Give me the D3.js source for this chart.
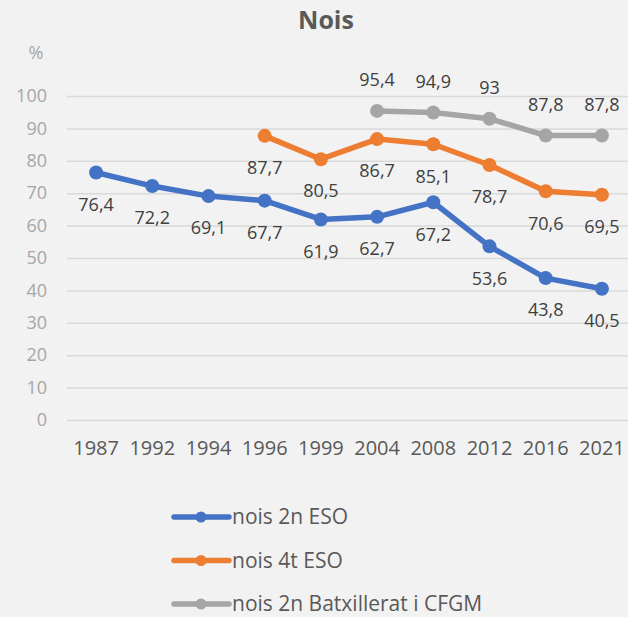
<!DOCTYPE html>
<html>
<head>
<meta charset="utf-8">
<script src="https://cdn.jsdelivr.net/npm/d3@7"></script>
<style>
  body { margin: 0; background: #f2f2f2; }
  svg { display: block; font-family: "Open Sans", sans-serif; }
</style>
</head>
<body>
<svg id="chart" width="628" height="617"></svg>
<script>
var years = ["1987", "1992", "1994", "1996", "1999", "2004", "2008", "2012", "2016", "2021"];
var nois2nESO = [76.4, 72.2, 69.1, 67.7, 61.9, 62.7, 67.2, 53.6, 43.8, 40.5];
var nois4tESO = [null, null, null, 87.7, 80.5, 86.7, 85.1, 78.7, 70.6, 69.5];
var nois2nBatx = [null, null, null, null, null, 95.4, 94.9, 93, 87.8, 87.8];
var yTicks = [0, 10, 20, 30, 40, 50, 60, 70, 80, 90, 100];

var series = [
  { name: "nois 2n ESO", values: nois2nESO, color: "#4472c4", labelDy: 32 },
  { name: "nois 4t ESO", values: nois4tESO, color: "#ed7d31", labelDy: 32 },
  { name: "nois 2n Batxillerat i CFGM", values: nois2nBatx, color: "#a5a5a5", labelDy: -31 }
];

var svg = d3.select("#chart");

var x = d3.scaleBand()
    .domain(years)
    .range([68, 630])
    .padding(0);

var y = d3.scaleLinear()
    .domain([0, 100])
    .range([420, 96]);

// title
svg.append("text")
    .attr("x", 326)
    .attr("y", 29)
    .attr("text-anchor", "middle")
    .attr("font-size", "25px")
    .attr("font-weight", "bold")
    .attr("fill", "#595959")
    .text("Nois");

// % unit
svg.append("text")
    .attr("x", 36)
    .attr("y", 53)
    .attr("dy", "0.35em")
    .attr("text-anchor", "middle")
    .attr("font-size", "18px")
    .attr("fill", "#a6a6a6")
    .text("%");

// y axis with gridlines
var yAxis = svg.append("g")
    .attr("transform", "translate(67,0)")
    .call(d3.axisLeft(y).tickValues(yTicks).tickSize(-561).tickPadding(20));
yAxis.select(".domain").remove();
yAxis.selectAll("line").attr("stroke", "#d9d9d9").attr("stroke-width", 1.5);
yAxis.selectAll("text")
    .attr("font-size", "18px")
    .attr("font-family", "Open Sans, sans-serif")
    .attr("fill", "#a6a6a6");

// x axis
var xAxis = svg.append("g")
    .attr("transform", "translate(0,420)")
    .call(d3.axisBottom(x).tickSize(0).tickPadding(21));
xAxis.select(".domain").remove();
xAxis.selectAll("text")
    .attr("font-size", "20px")
    .attr("font-family", "Open Sans, sans-serif")
    .attr("fill", "#595959");

var line = d3.line()
    .x(function(d) { return x(d.year) + x.bandwidth() / 2; })
    .y(function(d) { return y(d.value); });

series.forEach(function(s) {
  var data = years.map(function(yr, i) { return { year: yr, value: s.values[i] }; })
      .filter(function(d) { return d.value != null; });

  svg.append("path")
      .datum(data)
      .attr("fill", "none")
      .attr("stroke", s.color)
      .attr("stroke-width", 5.5)
      .attr("stroke-linejoin", "round")
      .attr("d", line);

  svg.append("g").selectAll("circle")
      .data(data)
      .enter().append("circle")
      .attr("cx", function(d) { return x(d.year) + x.bandwidth() / 2; })
      .attr("cy", function(d) { return y(d.value); })
      .attr("r", 7)
      .attr("fill", s.color);

  svg.append("g").selectAll("text")
      .data(data)
      .enter().append("text")
      .attr("x", function(d) { return x(d.year) + x.bandwidth() / 2; })
      .attr("y", function(d) { return y(d.value) + s.labelDy; })
      .attr("dy", "0.35em")
      .attr("text-anchor", "middle")
      .attr("font-size", "18px")
      .attr("fill", "#404040")
      .text(function(d) { return String(d.value).replace(".", ","); });
});

// legend
var legend = svg.append("g");
series.forEach(function(s, i) {
  var ly = 517 + i * 43.5;
  legend.append("line")
      .attr("x1", 174).attr("x2", 229)
      .attr("y1", ly).attr("y2", ly)
      .attr("stroke", s.color)
      .attr("stroke-width", 5.5)
      .attr("stroke-linecap", "round");
  legend.append("circle")
      .attr("cx", 201).attr("cy", ly).attr("r", 5.5)
      .attr("fill", s.color);
  legend.append("text")
      .attr("x", 232).attr("y", ly)
      .attr("dy", "0.35em")
      .attr("font-size", "21px")
      .attr("fill", "#595959")
      .text(s.name);
});
</script>
</body>
</html>
